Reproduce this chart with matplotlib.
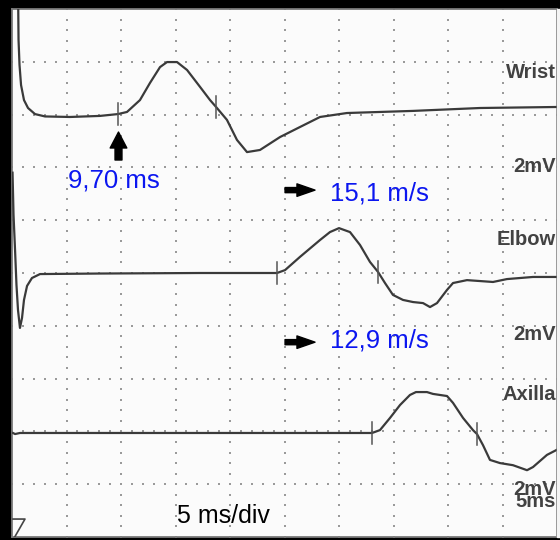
import numpy as np
import matplotlib
matplotlib.use("Agg")
import matplotlib.pyplot as plt
from matplotlib.patches import Rectangle

# time in ms, amplitude in mV relative to each trace baseline (2 mV/div, 5 ms/div)
wrist_t = [0.55, 0.60, 0.69, 0.83, 1.10, 1.47, 2.11, 3.03, 5.32, 8.07, 9.72, 10.55,
           11.74, 12.66, 13.58, 14.22, 15.14, 16.06, 17.25, 18.17, 18.72, 19.72,
           20.64, 21.56, 22.75, 24.59, 26.42, 28.26, 30.73, 36.79, 42.94, 50.3]
wrist_mv = [5.0, 2.83, 1.88, 1.12, 0.55, 0.25, 0.02, -0.07, -0.09, -0.05, 0.02, 0.10,
            0.55, 1.20, 1.80, 1.99, 1.99, 1.69, 1.05, 0.55, 0.29, -0.20,
            -0.96, -1.42, -1.34, -0.85, -0.47, -0.09, 0.06, 0.14, 0.25, 0.29]

elbow_t = [0.05, 0.14, 0.28, 0.41, 0.55, 0.73, 0.92, 1.10, 1.38, 1.83, 2.57, 8.07, 17.25,
           24.31, 25.05, 26.42, 28.26, 29.17, 30.00, 31.01, 31.93, 32.84, 33.58,
           34.22, 34.95, 35.87, 36.79, 37.71, 38.35, 38.99, 39.91, 40.46, 41.74,
           44.13, 45.41, 47.80, 50.3]
elbow_mv = [3.8, 2.2, 0.87, -0.45, -1.40, -2.08, -1.70, -1.02, -0.49, -0.19, -0.04, -0.02, 0.0,
            0.0, 0.11, 0.61, 1.25, 1.55, 1.70, 1.55, 1.06, 0.42, 0.04,
            -0.38, -0.83, -1.02, -1.10, -1.14, -1.29, -1.14, -0.64, -0.38, -0.27,
            -0.34, -0.23, -0.15, -0.15]

axilla_t = [0.09, 0.28, 0.73, 33.03, 33.76, 34.68, 35.60, 36.51, 37.06, 38.07, 38.62,
            39.91, 40.46, 41.38, 42.29, 42.66, 43.21, 43.85, 44.77, 45.96, 47.25,
            47.80, 49.08, 50.3]
axilla_mv = [-0.06, -0.10, -0.06, -0.06, 0.05, 0.51, 1.00, 1.38, 1.49, 1.49, 1.42,
             1.34, 1.08, 0.51, 0.05, -0.10, -0.52, -1.08, -1.20, -1.28, -1.47,
             -1.35, -0.89, -0.63]

# latency markers (ms, mV)
wrist_marks = [(9.70, 0.02), (18.72, 0.29)]
elbow_marks = [(24.31, 0.0), (33.58, 0.04)]
axilla_marks = [(33.03, -0.06), (42.66, -0.10)]

traces = [("Wrist", 8, wrist_t, wrist_mv, wrist_marks),
          ("Elbow", 5, elbow_t, elbow_mv, elbow_marks),
          ("Axilla", 2, axilla_t, axilla_mv, axilla_marks)]

fig = plt.figure(figsize=(5.6, 5.4), dpi=100, facecolor="black")
fig.patches.append(Rectangle((557 / 560, 3 / 540), 3 / 560, 528 / 540,
                             transform=fig.transFigure, color="#f4f4f4", zorder=0))
ax = fig.add_axes([12 / 560, 3 / 540, 545 / 560, 528 / 540])
ax.set_facecolor("#fbfbfb")
ax.set_xlim(0, 50)
ax.set_ylim(0, 10)
ax.set_xticks([])
ax.set_yticks([])
for s in ax.spines.values():
    s.set_color("#7a7a7a")
    s.set_linewidth(1.3)

# dotted grid, 5 dots per division
dot = dict(ls="none", marker="s", ms=1.6, color="#9a9a9a", mew=0, zorder=1)
for k in range(1, 10):
    yy = np.arange(0, 10.01, 0.2)
    ax.plot(np.full_like(yy, k * 5.0), yy, **dot)
    xx = np.arange(0, 50.01, 1.0)
    ax.plot(xx, np.full_like(xx, float(k)), **dot)

trace_kw = dict(color="#3a3a3a", lw=1.6, solid_joinstyle="round", zorder=3)
for name, off, t, mv, marks in traces:
    y = off + np.array(mv) / 2.0
    ax.plot(t, y, **trace_kw)
    for mt, mm in marks:
        yc = off + mm / 2.0
        ax.plot([mt, mt], [yc - 0.21, yc + 0.21], color="#555555", lw=1.1, zorder=4)

# channel labels at right
lab = dict(fontsize=14.5, fontweight="bold", color="#424242", family="Liberation Sans",
           ha="right", va="center")
xr = 49.93
ax.text(xr, 8.79, "Wrist", **lab)
ax.text(xr, 7.01, "2mV", **lab)
ax.text(xr, 5.64, "Elbow", **lab)
ax.text(xr, 3.83, "2mV", **lab)
ax.text(xr, 2.69, "Axilla", **lab)
ax.text(xr, 0.79, "2mV\n5ms", linespacing=0.55, multialignment="right", **lab)

# annotations
blue = dict(fontsize=18.5, color="#0b16f0", family="Liberation Sans", va="baseline")
ax.text(9.36, 6.61, "9,70 ms", ha="center", **blue)
ax.text(29.17, 6.38, "15,1 m/s", ha="left", **blue)
ax.text(29.17, 3.58, "12,9 m/s", ha="left", **blue)
ax.text(15.14, 0.265, "5 ms/div", fontsize=18, color="black", family="Liberation Sans",
        ha="left", va="baseline")

ax.annotate("", xy=(9.77, 7.67), xytext=(9.77, 7.14),
            arrowprops=dict(arrowstyle="simple,head_length=1.15,head_width=1.2,tail_width=0.5",
                            mutation_scale=10, color="black", shrinkA=0, shrinkB=0))
for ya in (6.57, 3.69):
    ax.annotate("", xy=(27.8, ya), xytext=(25.05, ya),
                arrowprops=dict(arrowstyle="simple,head_length=1.3,head_width=0.9,tail_width=0.37",
                                mutation_scale=10, color="black", shrinkA=0, shrinkB=0))

# stimulus symbol at bottom left
ax.plot([0.09, 1.19, 0.25], [0.34, 0.34, 0.0], color="#444444", lw=1.2, zorder=4)

fig.savefig("out.png", dpi=100, facecolor=fig.get_facecolor())
